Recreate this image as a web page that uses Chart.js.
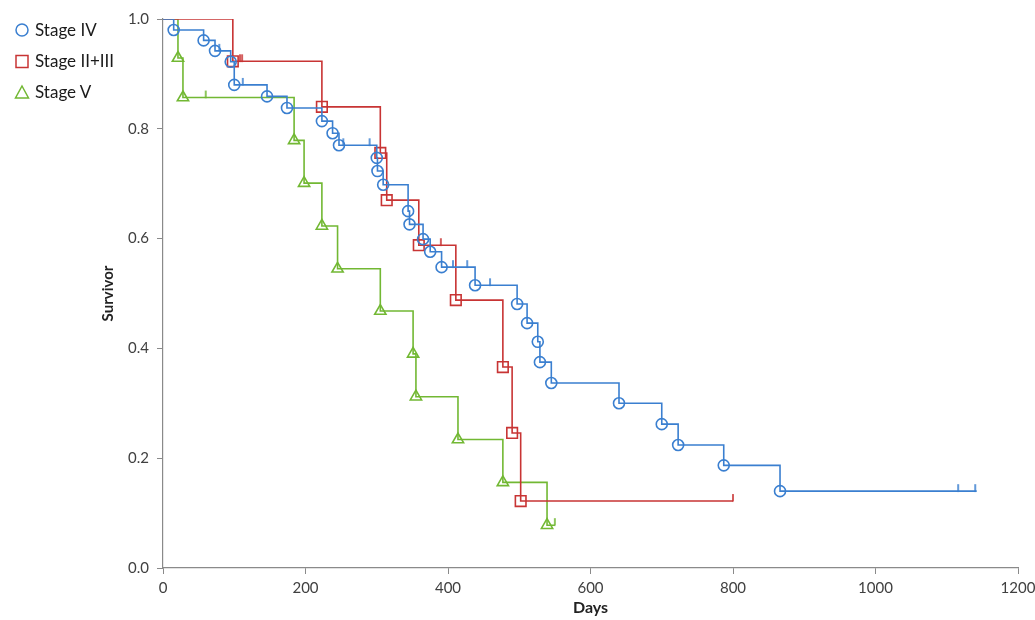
<!DOCTYPE html>
<html>
<head>
<meta charset="utf-8">
<script src="https://cdn.jsdelivr.net/npm/chart.js@4.4.1/dist/chart.umd.min.js"></script>
<style>
  html, body { margin: 0; padding: 0; background: #fff; }
  #wrap { position: relative; width: 1035px; height: 620px; }
  #legend { position: absolute; left: 14px; top: 14px; font-family: Lato, "Open Sans", sans-serif; font-size: 17px; color: #1a1a1a; }
  #legend .item { display: flex; align-items: center; height: 31px; }
  #legend svg { width: 16px; height: 16px; margin-right: 5px; }
</style>
</head>
<body>
<div id="wrap">
  <canvas id="c" width="1035" height="620"></canvas>
  <div id="legend"></div>
</div>
<script>
// ---- Data ----
const seriesNames = ["Stage IV", "Stage II+III", "Stage V"];

// Stage IV: event times (days) and survival after each event
const ivDays = [15, 57, 73, 95, 100, 146, 174, 223, 238, 247, 300, 301, 309, 344, 346, 365, 375, 391, 438, 497, 511, 526, 529, 545, 640, 700, 723, 787, 866];
const ivSurv = [0.980, 0.961, 0.942, 0.922, 0.880, 0.859, 0.838, 0.814, 0.792, 0.770, 0.747, 0.723, 0.698, 0.650, 0.626, 0.599, 0.576, 0.548, 0.515, 0.481, 0.446, 0.412, 0.375, 0.337, 0.300, 0.262, 0.224, 0.187, 0.140];
const ivEnd = 1142;
const ivCensorDays = [79, 112, 253, 290, 407, 427, 459, 1116, 1140];
const ivCensorSurv = [0.942, 0.880, 0.770, 0.770, 0.548, 0.548, 0.515, 0.140, 0.140];

// Stage II+III
const iiDays = [98, 223, 305, 314, 359, 411, 477, 490, 502];
const iiSurv = [0.923, 0.840, 0.756, 0.670, 0.588, 0.488, 0.366, 0.246, 0.122];
const iiEnd = 800;
const iiCensorDays = [108, 111, 390, 800];
const iiCensorSurv = [0.923, 0.923, 0.588, 0.122];

// Stage V
const vDays = [21, 28, 184, 198, 223, 245, 305, 351, 355, 414, 477, 539];
const vSurv = [0.929, 0.857, 0.779, 0.701, 0.623, 0.545, 0.468, 0.390, 0.312, 0.234, 0.156, 0.078];
const vEnd = 550;
const vCensorDays = [60, 550];
const vCensorSurv = [0.857, 0.078];

const xTicks = [0, 200, 400, 600, 800, 1000, 1200];
const yTicks = [0.0, 0.2, 0.4, 0.6, 0.8, 1.0];

// ---- Styling ----
const colors = ["#3a7fd0", "#c83434", "#72b833"];
const markers = ["circle", "rect", "triangle"];
const markerRadius = [5.5, 7.5, 6.5];

function curve(days, surv, endDay) {
  const pts = [{x: 0, y: 1.0}];
  for (let i = 0; i < days.length; i++) pts.push({x: days[i], y: surv[i]});
  pts.push({x: endDay, y: surv[surv.length - 1]});
  return pts;
}
function censor(days, surv) {
  return days.map((d, i) => ({x: d, y: surv[i]}));
}
function tickMark(color) {
  const c = document.createElement('canvas');
  c.width = 4; c.height = 16;
  const g = c.getContext('2d');
  g.strokeStyle = color; g.lineWidth = 1.6;
  g.beginPath(); g.moveTo(2, 1); g.lineTo(2, 8.5); g.stroke();
  return c;
}

const curves = [curve(ivDays, ivSurv, ivEnd), curve(iiDays, iiSurv, iiEnd), curve(vDays, vSurv, vEnd)];
const censors = [censor(ivCensorDays, ivCensorSurv), censor(iiCensorDays, iiCensorSurv), censor(vCensorDays, vCensorSurv)];

const datasets = [];
curves.forEach((pts, k) => {
  datasets.push({
    type: 'line',
    label: seriesNames[k],
    data: pts,
    stepped: true,
    borderColor: colors[k],
    borderWidth: 1.6,
    fill: false,
    pointStyle: markers[k],
    pointBorderColor: colors[k],
    pointBackgroundColor: 'rgba(0,0,0,0)',
    pointBorderWidth: 1.6,
    pointRadius: (ctx) => (ctx.dataIndex === 0 || ctx.dataIndex === pts.length - 1) ? 0 : markerRadius[k],
    order: 2
  });
});
censors.forEach((pts, k) => {
  datasets.push({
    type: 'scatter',
    label: seriesNames[k] + ' censored',
    data: pts,
    showLine: false,
    pointStyle: tickMark(colors[k]),
    pointRadius: 4,
    order: 1
  });
});

const axisColor = '#8a8a8a';
const fontFamily = 'Lato, "Open Sans", sans-serif';

new Chart(document.getElementById('c'), {
  data: { datasets },
  options: {
    responsive: false,
    animation: false,
    layout: { padding: { top: 19, right: 17, bottom: 0, left: 95 } },
    plugins: { legend: { display: false }, tooltip: { enabled: false } },
    scales: {
      x: {
        type: 'linear', min: 0, max: 1200,
        afterFit: (s) => { s.height = 52; s.paddingRight = 0; s.paddingLeft = 0; },
        afterBuildTicks: (s) => { s.ticks = xTicks.map(v => ({value: v})); },
        ticks: { color: '#404040', font: { family: fontFamily, size: 15 }, padding: 5, maxRotation: 0, callback: (v) => String(v) },
        grid: { drawOnChartArea: false, drawTicks: true, tickLength: 6, color: axisColor },
        border: { color: axisColor, width: 1.2 },
        title: { display: true, text: 'Days', color: '#222', font: { family: fontFamily, size: 16, weight: 'bold' }, padding: { top: 0, bottom: 3 } }
      },
      y: {
        type: 'linear', min: 0, max: 1,
        afterFit: (s) => { s.width = 68; },
        afterBuildTicks: (s) => { s.ticks = yTicks.map(v => ({value: v})); },
        ticks: { color: '#404040', font: { family: fontFamily, size: 15 }, padding: 8, callback: (v) => Number(v).toFixed(1) },
        grid: { drawOnChartArea: false, drawTicks: true, tickLength: 6, color: axisColor },
        border: { color: axisColor, width: 1.2 },
        title: { display: true, text: 'Survivor', color: '#222', font: { family: fontFamily, size: 15, weight: 'bold' }, padding: { top: 4, bottom: 4 } }
      }
    }
  }
});

// HTML legend
const svgShapes = [
  (c) => `<circle cx="8" cy="8" r="6" fill="none" stroke="${c}" stroke-width="1.5"/>`,
  (c) => `<rect x="2" y="2.5" width="12" height="12" fill="none" stroke="${c}" stroke-width="1.5"/>`,
  (c) => `<polygon points="8,2 14.5,14 1.5,14" fill="none" stroke="${c}" stroke-width="1.5"/>`
];
const legend = document.getElementById('legend');
seriesNames.forEach((name, k) => {
  const div = document.createElement('div');
  div.className = 'item';
  div.innerHTML = `<svg viewBox="0 0 16 16">${svgShapes[k](colors[k])}</svg><span>${name}</span>`;
  legend.appendChild(div);
});
</script>
</body>
</html>
